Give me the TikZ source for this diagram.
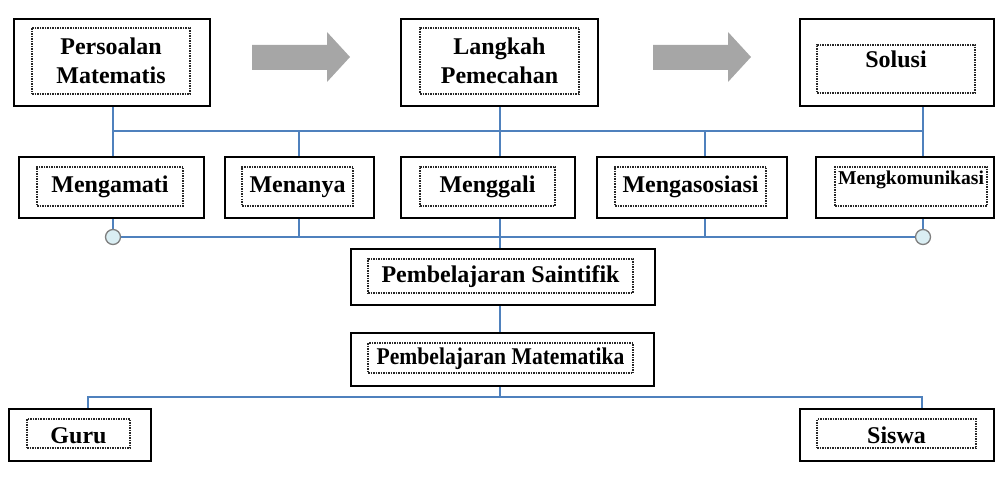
\documentclass[tikz,border=0pt]{standalone}
\usepackage{fontspec}
\setmainfont{Liberation Serif}
\newfontfamily\sempit[FakeStretch=0.9]{Liberation Serif}
\usepackage{tikz}
\usetikzlibrary{calc, positioning}
\definecolor{garisbiru}{RGB}{79,129,189}
\definecolor{panahabu}{RGB}{166,166,166}
\definecolor{bulatisi}{RGB}{218,238,243}
\definecolor{bulattepi}{RGB}{127,127,127}

\begin{document}
\begin{tikzpicture}[x=1pt, y=-1pt, font=\fontsize{24}{29}\selectfont\bfseries]
		% Styles for boxes and connectors
		\tikzset{luar/.style={draw=black, line width=2pt, fill=white, inner sep=0pt}}
		\tikzset{dalam/.style={draw=black!85, line width=1.5pt, dash pattern=on 1.5pt off 1pt, inner sep=0pt, align=center}}
		\tikzset{baris/.style={text height=17pt, text depth=5pt}}
		\tikzset{garis/.style={draw=garisbiru, line width=1.8pt}}
		\tikzset{bulat/.style={circle, draw=bulattepi, fill=bulatisi, line width=1.3pt, minimum size=15pt, inner sep=0pt}}
		\tikzset{panah/.style={fill=panahabu}}
		
		\useasboundingbox (0,0) rectangle (995,478);
		
		% --- Top row ---
		\node[luar, minimum width=196pt, minimum height=87pt] (persoalan) at (112,62.5) {};
		\node[dalam, minimum width=158pt, minimum height=66pt] (persoalan-teks) at (111,61) {Persoalan\\Matematis};
		\node[luar, minimum width=197pt, minimum height=87pt] (langkah) at (499.5,62.5) {};
		\node[dalam, minimum width=159pt, minimum height=66pt] (langkah-teks) at (499.5,61) {Langkah\\Pemecahan};
		\node[luar, minimum width=194pt, minimum height=87pt] (solusi) at (897,62.5) {};
		\node[dalam, minimum width=158pt, minimum height=48pt, text height=17pt, text depth=19pt] (solusi-teks) at (896,69) {Solusi};
		
		% grey block arrows between the top boxes
		\foreach \x in {252,653}
			\fill[panah] (\x,45) -- (\x+75,45) -- (\x+75,32) -- (\x+98,57) -- (\x+75,82) -- (\x+75,70) -- (\x,70) -- cycle;
		
		% --- Middle row ---
		\node[luar, minimum width=185pt, minimum height=61pt] (mengamati) at (111.5,187.5) {};
		\node[dalam, baris, minimum width=146pt, minimum height=39pt] (mengamati-teks) at (110,186.5) {Mengamati};
		\node[luar, minimum width=149pt, minimum height=61pt] (menanya) at (299.5,187.5) {};
		\node[dalam, baris, minimum width=111pt, minimum height=39pt] (menanya-teks) at (297.5,186.5) {Menanya};
		\node[luar, minimum width=174pt, minimum height=61pt] (menggali) at (488,187.5) {};
		\node[dalam, baris, minimum width=135pt, minimum height=39pt] (menggali-teks) at (487.5,186.5) {Menggali};
		\node[luar, minimum width=190pt, minimum height=61pt] (mengasosiasi) at (692,187.5) {};
		\node[dalam, baris, minimum width=151pt, minimum height=39pt] (mengasosiasi-teks) at (690.5,186.5) {Mengasosiasi};
		\node[luar, minimum width=178pt, minimum height=61pt] (mengkomunikasi) at (905,187.5) {};
		\node[dalam, minimum width=152pt, minimum height=39pt, text height=13pt, text depth=16pt,
			font=\fontsize{19.6}{23}\selectfont\bfseries] (mengkomunikasi-teks) at (911,186.5) {Mengkomunikasi};
		
		% --- Lower boxes ---
		\node[luar, minimum width=304pt, minimum height=56pt] (saintifik) at (503,277) {};
		\node[dalam, baris, minimum width=265pt, minimum height=34pt] (saintifik-teks) at (500.5,276) {Pembelajaran Saintifik};
		\node[luar, minimum width=303pt, minimum height=53pt] (matematika) at (502.5,359.5) {};
		\node[dalam, baris, minimum width=265pt, minimum height=30pt, font=\sempit\fontsize{24}{29}\selectfont\bfseries] (matematika-teks) at (500.5,358) {Pembelajaran Matematika};
		\node[luar, minimum width=142pt, minimum height=52pt] (guru) at (80,435) {};
		\node[dalam, minimum width=103pt, minimum height=29pt, text height=21pt, text depth=2pt] (guru-teks) at (78.5,433.5) {Guru};
		\node[luar, minimum width=194pt, minimum height=52pt] (siswa) at (897,435) {};
		\node[dalam, minimum width=159pt, minimum height=29pt, text height=21pt, text depth=2pt] (siswa-teks) at (896.5,433.5) {Siswa};
		
		% Upper blue bus
		\coordinate (atas1) at (113,131);
		\coordinate (atas2) at (299,131);
		\coordinate (atas3) at (500,131);
		\coordinate (atas4) at (705,131);
		\coordinate (atas5) at (923,131);
		\draw[garis] (atas1) -- (atas5);
		\draw[garis] (persoalan.south -| atas1) -- (mengamati.north -| atas1);
		\draw[garis] (atas2) -- (menanya.north -| atas2);
		\draw[garis] (langkah.south -| atas3) -- (menggali.north -| atas3);
		\draw[garis] (atas4) -- (mengasosiasi.north -| atas4);
		\draw[garis] (solusi.south -| atas5) -- (mengkomunikasi.north -| atas5);
		
		% Lower blue bus, circles at both ends
		\coordinate (bawah1) at (113,237);
		\coordinate (bawah2) at (299,237);
		\coordinate (bawah3) at (500,237);
		\coordinate (bawah4) at (705,237);
		\coordinate (bawah5) at (923,237);
		\draw[garis] (bawah1) -- (bawah5);
		\draw[garis] (mengamati.south -| bawah1) -- (bawah1);
		\draw[garis] (menanya.south -| bawah2) -- (bawah2);
		\draw[garis] (menggali.south -| bawah3) -- (saintifik.north -| bawah3);
		\draw[garis] (mengasosiasi.south -| bawah4) -- (bawah4);
		\draw[garis] (mengkomunikasi.south -| bawah5) -- (bawah5);
		\node[bulat] (ujung-kiri) at (bawah1) {};
		\node[bulat] (ujung-kanan) at (bawah5) {};
		
		% Saintifik -> Matematika -> Guru / Siswa
		\draw[garis] (saintifik.south -| bawah3) -- (matematika.north -| bawah3);
		\coordinate (cabang) at (500,397);
		\coordinate (cabang-kiri) at (88,397);
		\coordinate (cabang-kanan) at (922,397);
		\draw[garis] (matematika.south -| cabang) -- (cabang);
		\draw[garis] (guru.north -| cabang-kiri) -- (cabang-kiri) -- (cabang-kanan) -- (siswa.north -| cabang-kanan);
	\end{tikzpicture}
\end{document}
